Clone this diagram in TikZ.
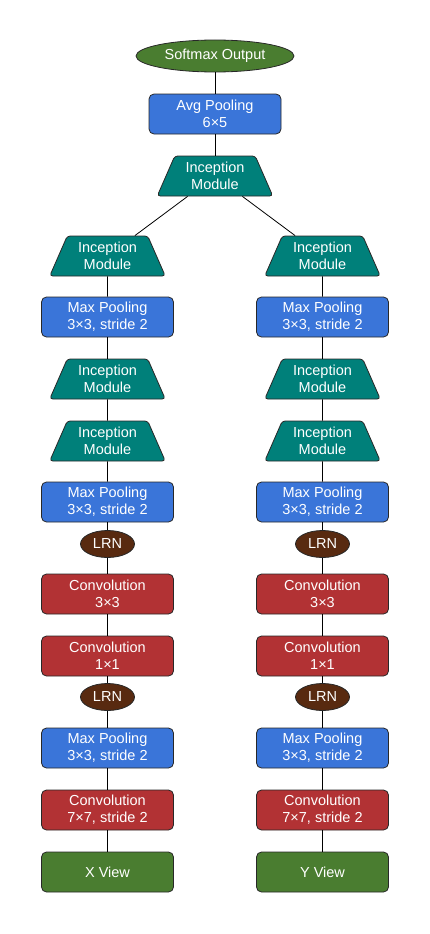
\documentclass[tikz,border=0pt]{standalone}
\usepackage{fontspec}
\setmainfont{Liberation Sans}
\usetikzlibrary{shapes.geometric}
\definecolor{cgreen}{RGB}{74,125,48}
\definecolor{cblue}{RGB}{58,117,217}
\definecolor{cteal}{RGB}{0,128,122}
\definecolor{cred}{RGB}{178,50,52}
\definecolor{cbrown}{RGB}{88,42,16}
\definecolor{cedge}{RGB}{40,40,40}
\tikzset{
  base/.style={draw=cedge, line width=0.8pt, text=white, align=center, inner sep=0pt,
    font=\fontsize{14.5}{16.8}\selectfont},
  box/.style={base, rectangle, rounded corners=5pt, minimum width=132pt, minimum height=40pt},
  pool/.style={box, fill=cblue},
  conv/.style={box, fill=cred},
  view/.style={box, fill=cgreen},
  incep/.style={base, trapezium, trapezium left angle=65, trapezium right angle=65,
    trapezium stretches=true, minimum width=116pt, minimum height=40pt, fill=cteal, rounded corners=3pt},
  lrn/.style={base, ellipse, fill=cbrown, minimum width=54pt, minimum height=27pt},
  link/.style={draw=black, line width=0.8pt}
}
\begin{document}
\begin{tikzpicture}[x=1pt,y=-1pt]
\useasboundingbox (0,0) rectangle (430,934);
\node[base, ellipse, fill=cgreen, minimum width=158pt, minimum height=32pt] (sm) at (215,56) {Softmax Output};
\node[pool] (avg) at (215,114) {Avg Pooling\\6×5};
\node[incep] (inc0) at (215,176) {Inception\\Module};
\foreach \s/\x in {L/107.5,R/322.5}{
  \node[incep] (inc1\s) at (\x,256) {Inception\\Module};
  \node[pool] (mp1\s) at (\x,317) {Max Pooling\\3×3, stride 2};
  \node[incep] (inc2\s) at (\x,379) {Inception\\Module};
  \node[incep] (inc3\s) at (\x,441) {Inception\\Module};
  \node[pool] (mp2\s) at (\x,502) {Max Pooling\\3×3, stride 2};
  \node[lrn] (lrn1\s) at (\x,544) {LRN};
  \node[conv] (c3\s) at (\x,594) {Convolution\\3×3};
  \node[conv] (c1\s) at (\x,656) {Convolution\\1×1};
  \node[lrn] (lrn2\s) at (\x,697) {LRN};
  \node[pool] (mp3\s) at (\x,748) {Max Pooling\\3×3, stride 2};
  \node[conv] (c7\s) at (\x,810) {Convolution\\7×7, stride 2};
}
\node[view] (viewL) at (107.5,872) {X View};
\node[view] (viewR) at (322.5,872) {Y View};
\draw[link] (sm) -- (avg);
\draw[link] (avg) -- (inc0);
\draw[link] (inc0) -- (inc1L);
\draw[link] (inc0) -- (inc1R);
\foreach \s in {L,R}{
  \draw[link] (inc1\s) -- (mp1\s);
  \draw[link] (mp1\s) -- (inc2\s);
  \draw[link] (inc2\s) -- (inc3\s);
  \draw[link] (inc3\s) -- (mp2\s);
  \draw[link] (mp2\s) -- (lrn1\s);
  \draw[link] (lrn1\s) -- (c3\s);
  \draw[link] (c3\s) -- (c1\s);
  \draw[link] (c1\s) -- (lrn2\s);
  \draw[link] (lrn2\s) -- (mp3\s);
  \draw[link] (mp3\s) -- (c7\s);
  \draw[link] (c7\s) -- (view\s);
}
\end{tikzpicture}
\end{document}
